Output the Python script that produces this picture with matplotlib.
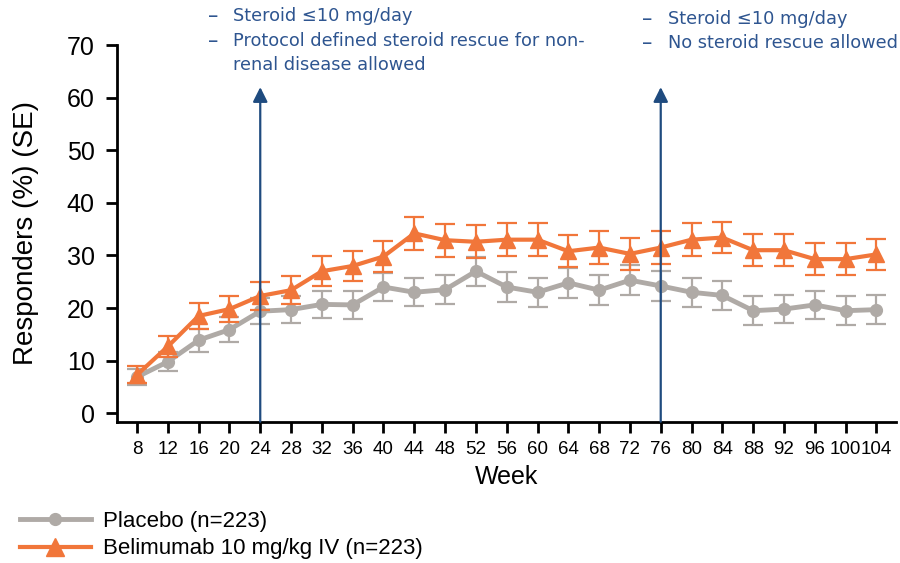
import numpy as np
import matplotlib
matplotlib.use("Agg")
import matplotlib.pyplot as plt
from matplotlib.lines import Line2D

weeks = [8, 12, 16, 20, 24, 28, 32, 36, 40, 44, 48, 52, 56,
         60, 64, 68, 72, 76, 80, 84, 88, 92, 96, 100, 104]

placebo = [6.9, 9.8, 13.9, 15.9, 19.4, 19.7, 20.7, 20.6, 24.0, 23.0, 23.5, 27.0, 24.0,
           23.0, 24.8, 23.4, 25.3, 24.2, 23.0, 22.4, 19.5, 19.8, 20.6, 19.5, 19.7]
placebo_se = [1.6, 1.8, 2.2, 2.4, 2.5, 2.5, 2.6, 2.6, 2.7, 2.7, 2.7, 2.8, 2.8,
              2.8, 2.9, 2.9, 2.9, 2.8, 2.8, 2.8, 2.7, 2.7, 2.6, 2.7, 2.7]

belim = [7.3, 12.7, 18.5, 19.8, 22.3, 23.4, 27.0, 28.0, 29.8, 34.2, 32.9, 32.6, 33.0,
         33.0, 30.8, 31.5, 30.3, 31.5, 33.0, 33.4, 31.0, 31.0, 29.3, 29.3, 30.2]
belim_se = [1.6, 2.0, 2.5, 2.5, 2.7, 2.7, 2.9, 2.9, 2.9, 3.1, 3.1, 3.1, 3.1,
            3.1, 3.0, 3.1, 3.0, 3.1, 3.1, 3.0, 3.0, 3.0, 3.0, 3.0, 3.0]

arrow_weeks = [24, 76]
notes = [["Steroid \u226410 mg/day",
          "Protocol defined steroid rescue for non-",
          "renal disease allowed"],
         ["Steroid \u226410 mg/day",
          "No steroid rescue allowed"]]
labels = ["Placebo (n=223)", "Belimumab 10 mg/kg IV (n=223)"]

grey = "#AFAAA6"
orange = "#F1763A"
navy = "#1F4B7F"
note_col = "#2E5590"

plt.rcParams['font.family'] = ['Liberation Sans', 'DejaVu Sans']

fig = plt.figure(figsize=(9, 5.63), dpi=100)
ax = fig.add_axes([0.130, 0.251, 0.866, 0.669])

ax.errorbar(weeks, placebo, yerr=placebo_se, color=grey, lw=3.5, marker='o', ms=8.5,
            elinewidth=1.6, capsize=7, capthick=1.6, zorder=3)
ax.errorbar(weeks, belim, yerr=belim_se, color=orange, lw=3, marker='^', ms=11,
            elinewidth=1.6, capsize=7, capthick=1.6, zorder=4)

for w in arrow_weeks:
    ax.annotate('', xy=(w, 62), xytext=(w, -1.6),
                arrowprops=dict(arrowstyle='-|>', color=navy, lw=1.6, mutation_scale=22,
                                shrinkA=0, shrinkB=0),
                annotation_clip=False, zorder=5)

ax.set_xlim(5.4, 106.6)
ax.set_ylim(-1.6, 70)
ax.set_xticks(weeks)
ax.set_yticks(range(0, 71, 10))
ax.tick_params(axis='x', labelsize=13.5, length=8, width=2, pad=6)
ax.tick_params(axis='y', labelsize=18, length=8, width=2, pad=8)
for s in ['top', 'right']:
    ax.spines[s].set_visible(False)
for s in ['left', 'bottom']:
    ax.spines[s].set_linewidth(2)
ax.spines['left'].set_bounds(-1.6, 70)

ax.set_xlabel("Week", fontsize=18, labelpad=5)
ax.set_ylabel("Responders (%) (SE)", fontsize=20, labelpad=20)

# annotation blocks above the arrows
blocks_x = [(213, 233), (647, 668)]
for (dx, tx), lines, y0 in zip(blocks_x, notes, [16, 19]):
    for i, line in enumerate(lines):
        y = 1 - (y0 + i * 24.5) / 563
        if i < 2:
            fig.text(dx / 900, y, "\u2013", color=note_col, fontsize=15,
                     family='DejaVu Sans', ha='center', va='center')
        fig.text(tx / 900, y, line, color=note_col, fontsize=12.8,
                 family='DejaVu Sans', ha='left', va='center')

handles = [Line2D([], [], color=grey, lw=3.5, marker='o', ms=8.5),
           Line2D([], [], color=orange, lw=3, marker='^', ms=13)]
fig.legend(handles, labels, loc='upper left', bbox_to_anchor=(0.022, 0.092), frameon=False,
           fontsize=16, handlelength=3.2, handletextpad=0.55, labelspacing=0.28,
           borderpad=0, borderaxespad=0)

fig.savefig("out.png", dpi=100)
